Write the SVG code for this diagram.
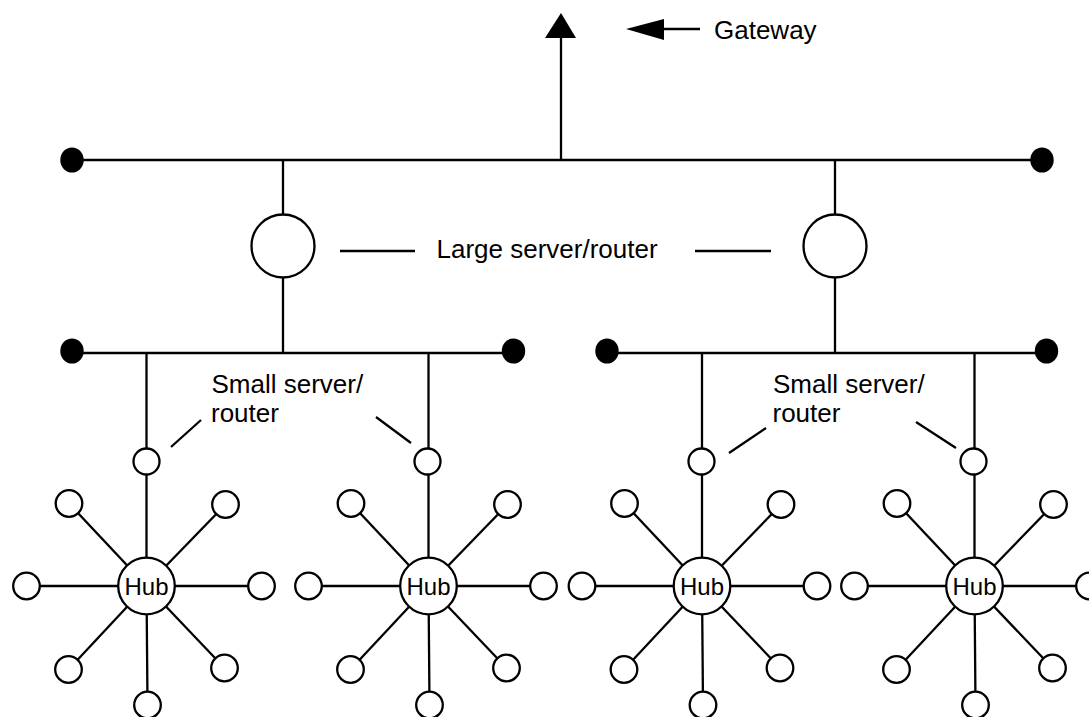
<svg xmlns="http://www.w3.org/2000/svg" width="1089" height="717" viewBox="0 0 1089 717">
<style>
.ln{stroke:#000;stroke-width:2.3;fill:none}
.nd{stroke:#000;stroke-width:2.3;fill:#fff}
.dot{fill:#000;stroke:none}
.ah{fill:#000;stroke:none}
.tx{font-family:"Liberation Sans",Arial,Helvetica,sans-serif;font-size:26px;fill:#000}
.hub{font-family:"Liberation Sans",Arial,Helvetica,sans-serif;font-size:24px;fill:#000;text-anchor:middle}
</style>
<defs>
<g id="star">
<line class="ln" x1="0" y1="0" x2="-120" y2="0"/>
<line class="ln" x1="0" y1="0" x2="115" y2="0"/>
<line class="ln" x1="0" y1="0" x2="-77.5" y2="-82.5"/>
<line class="ln" x1="0" y1="0" x2="79" y2="-81.5"/>
<line class="ln" x1="0" y1="0" x2="-78" y2="83.5"/>
<line class="ln" x1="0" y1="0" x2="78" y2="82"/>
<line class="ln" x1="0" y1="0" x2="1" y2="119"/>
<circle class="nd" cx="-120" cy="0" r="13.3"/>
<circle class="nd" cx="115" cy="0" r="13.3"/>
<circle class="nd" cx="-77.5" cy="-82.5" r="13.3"/>
<circle class="nd" cx="79" cy="-81.5" r="13.3"/>
<circle class="nd" cx="-78" cy="83.5" r="13.3"/>
<circle class="nd" cx="78" cy="82" r="13.3"/>
<circle class="nd" cx="1" cy="119" r="13.3"/>
<circle class="nd" cx="0" cy="0" r="28.3"/>
<text class="hub" x="0" y="8.5">Hub</text>
</g>
</defs>
<rect width="1089" height="717" fill="#fff"/>
<g id="connectors">
<line class="ln" x1="72" y1="160" x2="1042" y2="160"/>
<line class="ln" x1="561" y1="160" x2="561" y2="36"/>
<polygon class="ah" points="561,13 545,38 576,38"/>
<line class="ln" x1="662" y1="29" x2="700" y2="29"/>
<polygon class="ah" points="626,29 664,19 664,40"/>
<line class="ln" x1="283" y1="160" x2="283" y2="215"/>
<line class="ln" x1="283" y1="277" x2="283" y2="353"/>
<line class="ln" x1="835" y1="160" x2="835" y2="215"/>
<line class="ln" x1="835" y1="277" x2="835" y2="353"/>
<line class="ln" x1="340" y1="251" x2="415" y2="251"/>
<line class="ln" x1="695" y1="251" x2="771" y2="251"/>
<line class="ln" x1="72" y1="353" x2="513" y2="353"/>
<line class="ln" x1="607" y1="353" x2="1046" y2="353"/>
<line class="ln" x1="146.5" y1="353" x2="146.5" y2="586"/>
<line class="ln" x1="428.5" y1="353" x2="428.5" y2="586"/>
<line class="ln" x1="702" y1="353" x2="702" y2="586"/>
<line class="ln" x1="974.5" y1="353" x2="974.5" y2="586"/>
<line class="ln" x1="171" y1="447" x2="201" y2="420"/>
<line class="ln" x1="376" y1="417" x2="411" y2="443"/>
<line class="ln" x1="729" y1="453" x2="766" y2="428"/>
<line class="ln" x1="916" y1="422" x2="956" y2="448"/>
</g>
<g id="bus-ends">
<ellipse class="dot" cx="72" cy="160" rx="11.7" ry="12.6"/>
<ellipse class="dot" cx="1042" cy="160" rx="11.7" ry="12.6"/>
<ellipse class="dot" cx="72" cy="351" rx="11.7" ry="12.6"/>
<ellipse class="dot" cx="513.5" cy="351" rx="11.7" ry="12.6"/>
<ellipse class="dot" cx="607" cy="351" rx="11.7" ry="12.6"/>
<ellipse class="dot" cx="1046.5" cy="351" rx="11.7" ry="12.6"/>
</g>
<g id="gateway-label"><text class="tx" x="714" y="39">Gateway</text></g>
<g id="large-server-1"><circle class="nd" cx="283" cy="246" r="31.5"/></g>
<g id="large-server-2"><circle class="nd" cx="835" cy="246" r="31.5"/></g>
<g id="large-label"><text class="tx" x="436.5" y="258">Large server/router</text></g>
<g id="small-label-1"><text class="tx" x="211.5" y="392.5">Small server/</text><text class="tx" x="211" y="421.5">router</text></g>
<g id="small-label-2"><text class="tx" x="773" y="392.5">Small server/</text><text class="tx" x="772.5" y="421.5">router</text></g>
<g id="small-server-1"><circle class="nd" cx="146.5" cy="461.5" r="13"/></g>
<g id="small-server-2"><circle class="nd" cx="427.5" cy="461.5" r="13"/></g>
<g id="small-server-3"><circle class="nd" cx="701.5" cy="461.5" r="13"/></g>
<g id="small-server-4"><circle class="nd" cx="973.5" cy="461.5" r="13"/></g>
<g id="hub-1"><use href="#star" x="146.5" y="586"/></g>
<g id="hub-2"><use href="#star" x="428.5" y="586"/></g>
<g id="hub-3"><use href="#star" x="702" y="586"/></g>
<g id="hub-4"><use href="#star" x="974.5" y="586"/></g>
</svg>
